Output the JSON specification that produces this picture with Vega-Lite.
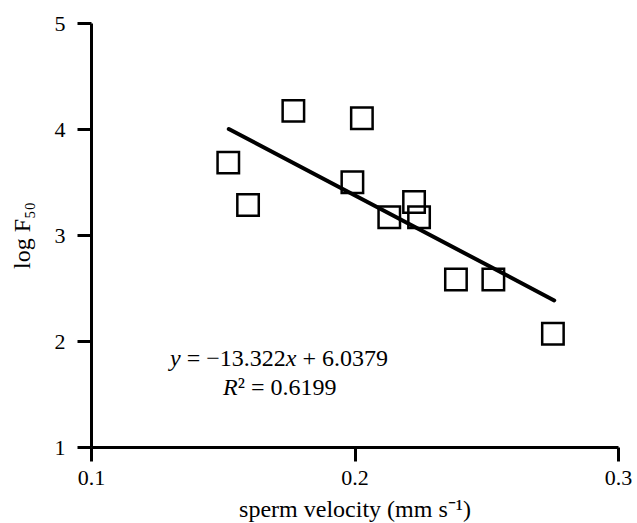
{
  "$schema": "https://vega.github.io/schema/vega-lite/v6.json",
  "width": 527,
  "height": 424,
  "autosize": {"type": "none"},
  "padding": {"left": 91, "top": 23, "right": 19, "bottom": 76},
  "background": "white",
  "config": {
    "view": {"stroke": null},
    "axis": {
      "grid": false,
      "labelFlush": false,
      "labelOverlap": false,
      "domainColor": "#000000",
      "domainWidth": 3,
      "tickColor": "#000000",
      "tickWidth": 3,
      "tickSize": 14,
      "labelFont": "Liberation Serif",
      "labelFontSize": 22,
      "labelColor": "#000000",
      "titleFont": "Liberation Serif",
      "titleFontSize": 24,
      "titleFontWeight": "normal",
      "titleColor": "#000000"
    }
  },
  "datasets": {
    "pts": [
      {"x": 0.1521, "y": 3.683},
      {"x": 0.1596, "y": 3.283},
      {"x": 0.1768, "y": 4.171},
      {"x": 0.1992, "y": 3.498},
      {"x": 0.2028, "y": 4.102},
      {"x": 0.2132, "y": 3.167},
      {"x": 0.2226, "y": 3.312},
      {"x": 0.2245, "y": 3.167},
      {"x": 0.2385, "y": 2.581},
      {"x": 0.2527, "y": 2.581},
      {"x": 0.2753, "y": 2.068}
    ],
    "trend": [
      {"x": 0.1523, "y": 4.0},
      {"x": 0.2758, "y": 2.383}
    ],
    "notes": [
      {"x": 0.1300, "y": 1.762, "t": "y", "it": true},
      {"x": 0.1363, "y": 1.762, "t": "= −13.322", "it": false},
      {"x": 0.17389, "y": 1.762, "t": "x", "it": true},
      {"x": 0.18023, "y": 1.762, "t": "+ 6.0379", "it": false},
      {"x": 0.15009, "y": 1.488, "t": "R", "it": true},
      {"x": 0.15567, "y": 1.488, "t": "² = 0.6199", "it": false}
    ]
  },
  "encoding": {
    "x": {
      "field": "x",
      "type": "quantitative",
      "scale": {"domain": [0.1, 0.3], "nice": false, "zero": false},
      "axis": {
        "values": [0.1, 0.2, 0.3],
        "format": ".1f",
        "title": "sperm velocity (mm s⁻¹)",
        "labelPadding": 6,
        "titlePadding": 9
      }
    },
    "y": {
      "field": "y",
      "type": "quantitative",
      "scale": {"domain": [1, 5], "nice": false, "zero": false},
      "axis": {
        "values": [1, 2, 3, 4, 5],
        "format": "d",
        "title": "log F₅₀",
        "labelPadding": 12,
        "titlePadding": 20
      }
    }
  },
  "layer": [
    {
      "data": {"name": "trend"},
      "mark": {"type": "line", "color": "#000000", "strokeWidth": 4, "strokeCap": "round"}
    },
    {
      "data": {"name": "pts"},
      "mark": {"type": "point", "shape": "square", "filled": false, "stroke": "#000000", "strokeWidth": 2.5, "size": 460, "opacity": 1}
    },
    {
      "data": {"name": "notes"},
      "transform": [{"filter": "datum.it"}],
      "mark": {"type": "text", "font": "Liberation Serif", "fontSize": 24, "fontStyle": "italic", "align": "left", "baseline": "alphabetic", "color": "#000000"},
      "encoding": {"text": {"field": "t"}}
    },
    {
      "data": {"name": "notes"},
      "transform": [{"filter": "!datum.it"}],
      "mark": {"type": "text", "font": "Liberation Serif", "fontSize": 24, "align": "left", "baseline": "alphabetic", "color": "#000000"},
      "encoding": {"text": {"field": "t"}}
    }
  ]
}
